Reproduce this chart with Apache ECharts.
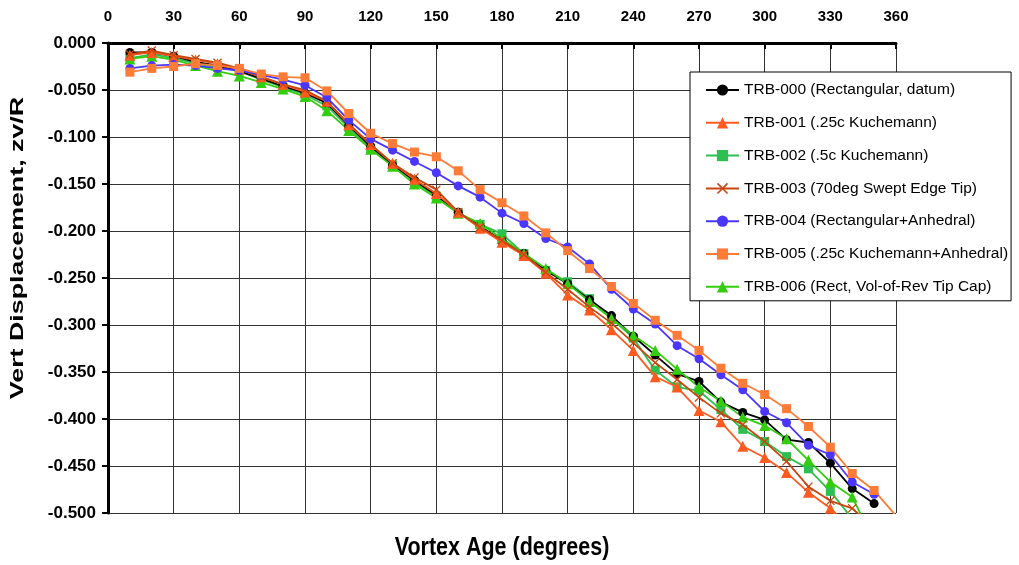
<!DOCTYPE html>
<html>
<head>
<meta charset="utf-8">
<script src="https://cdn.jsdelivr.net/npm/echarts@6/dist/echarts.min.js"></script>
<style>html,body{margin:0;padding:0;background:#fff}#c{width:1019px;height:565px}</style>
</head>
<body>
<div id="c"></div>
<script>
const ages = [10,20,30,40,50,60,70,80,90,100,110,120,130,140,150,160,170,180,190,200,210,220,230,240,250,260,270,280,290,300,310,320,330,340,350,360];
const xTicks = [0,30,60,90,120,150,180,210,240,270,300,330,360];

const trb000 = [-0.010,-0.010,-0.014,-0.020,-0.024,-0.030,-0.038,-0.046,-0.053,-0.064,-0.088,-0.110,-0.130,-0.146,-0.162,-0.180,-0.195,-0.210,-0.224,-0.242,-0.256,-0.273,-0.290,-0.312,-0.332,-0.352,-0.360,-0.382,-0.393,-0.401,-0.422,-0.425,-0.447,-0.474,-0.490];
const trb001 = [-0.013,-0.010,-0.014,-0.018,-0.022,-0.028,-0.036,-0.044,-0.052,-0.062,-0.087,-0.108,-0.128,-0.145,-0.160,-0.180,-0.197,-0.212,-0.226,-0.245,-0.268,-0.284,-0.305,-0.327,-0.355,-0.366,-0.391,-0.403,-0.429,-0.441,-0.457,-0.478,-0.495,-0.518];
const trb002 = [-0.016,-0.012,-0.016,-0.022,-0.026,-0.030,-0.039,-0.047,-0.055,-0.067,-0.090,-0.112,-0.130,-0.148,-0.163,-0.181,-0.193,-0.203,-0.224,-0.242,-0.254,-0.272,-0.293,-0.314,-0.348,-0.366,-0.370,-0.390,-0.411,-0.424,-0.440,-0.453,-0.477,-0.506];
const trb003 = [-0.012,-0.008,-0.013,-0.017,-0.021,-0.027,-0.036,-0.044,-0.050,-0.062,-0.086,-0.108,-0.128,-0.143,-0.156,-0.180,-0.196,-0.210,-0.225,-0.244,-0.262,-0.281,-0.298,-0.319,-0.340,-0.358,-0.377,-0.394,-0.406,-0.424,-0.445,-0.472,-0.487,-0.495,-0.516];
const trb004 = [-0.027,-0.024,-0.023,-0.024,-0.027,-0.029,-0.034,-0.039,-0.045,-0.058,-0.082,-0.102,-0.114,-0.126,-0.138,-0.152,-0.164,-0.181,-0.192,-0.208,-0.217,-0.235,-0.262,-0.283,-0.299,-0.322,-0.336,-0.353,-0.369,-0.392,-0.404,-0.428,-0.438,-0.467,-0.480];
const trb005 = [-0.031,-0.027,-0.025,-0.022,-0.024,-0.027,-0.033,-0.036,-0.037,-0.051,-0.075,-0.096,-0.107,-0.116,-0.121,-0.136,-0.156,-0.170,-0.184,-0.202,-0.221,-0.240,-0.259,-0.277,-0.295,-0.311,-0.327,-0.346,-0.362,-0.374,-0.389,-0.408,-0.430,-0.458,-0.476,-0.503];
const trb006 = [-0.017,-0.014,-0.018,-0.024,-0.030,-0.035,-0.042,-0.049,-0.057,-0.072,-0.093,-0.113,-0.131,-0.150,-0.165,-0.181,-0.192,-0.208,-0.224,-0.240,-0.256,-0.275,-0.293,-0.311,-0.327,-0.347,-0.366,-0.381,-0.398,-0.407,-0.421,-0.444,-0.467,-0.483,-0.530];

const names = [
  'TRB-000 (Rectangular, datum)',
  'TRB-001 (.25c Kuchemann)',
  'TRB-002 (.5c Kuchemann)',
  'TRB-003 (70deg Swept Edge Tip)',
  'TRB-004 (Rectangular+Anhedral)',
  'TRB-005 (.25c Kuchemann+Anhedral)',
  'TRB-006 (Rect, Vol-of-Rev Tip Cap)'
];
const values = [trb000, trb001, trb002, trb003, trb004, trb005, trb006];
const xSym = 'path://M0,1 L1,0 L5,4 L9,0 L10,1 L6,5 L10,9 L9,10 L5,6 L1,10 L0,9 L4,5 Z';
const styles = [
  {c:'#000000', s:'circle', z:8},
  {c:'#ff5a1f', s:'triangle', z:9},
  {c:'#2dbf4f', s:'rect', z:7},
  {c:'#c8460f', s:xSym, z:9},
  {c:'#4a36ff', s:'circle', z:9},
  {c:'#ff7b38', s:'rect', z:9},
  {c:'#33cc0f', s:'triangle', z:8}
];

const series = values.map((arr, i) => ({
  name: names[i],
  type: 'line',
  data: arr.map((v, k) => [ages[k], v]),
  symbol: styles[i].s,
  symbolSize: styles[i].s === 'triangle' ? 11 : 9,
  lineStyle: {color: styles[i].c, width: 1.8},
  itemStyle: {color: styles[i].c},
  clip: true,
  animation: false,
  z: styles[i].z
}));

const chart = echarts.init(document.getElementById('c'), null, {renderer: 'canvas'});
chart.setOption({
  backgroundColor: '#fff',
  animation: false,
  grid: {left: 108, top: 43, right: 123, bottom: 52},
  graphic: [
    {
      type: 'text', x: 18, y: 248, rotation: Math.PI / 2, scaleX: 1.41, scaleY: 1.0,
      style: {text: 'Vert Displacement, zv/R', fontFamily: 'Liberation Sans', fontWeight: 'bold',
        fontSize: 19, fill: '#000', align: 'center', verticalAlign: 'middle'}
    },
    {
      type: 'text', x: 502, y: 548, scaleX: 1.0, scaleY: 1.18,
      style: {text: 'Vortex Age (degrees)', fontFamily: 'Liberation Sans', fontWeight: 'bold',
        fontSize: 21.5, fill: '#000', align: 'center', verticalAlign: 'middle'}
    }
  ],
  xAxis: {
    type: 'value', position: 'top', min: 0, max: 360, interval: 30,
    axisLine: {show: true, onZero: false, lineStyle: {color: '#000', width: 3}},
    axisTick: {show: true, inside: true, length: 6, lineStyle: {color: '#000', width: 2}},
    axisLabel: {
      margin: 19, color: '#000', fontFamily: 'Liberation Sans', fontWeight: 'bold', fontSize: 15,
      formatter: v => xTicks.includes(v) ? String(v) : ''
    },
    splitLine: {show: true, lineStyle: {color: '#333', width: 1}}
  },
  yAxis: {
    type: 'value', min: -0.5, max: 0, interval: 0.05,
    axisLine: {show: true, onZero: false, lineStyle: {color: '#000', width: 3}},
    axisTick: {show: true, inside: false, length: 6, lineStyle: {color: '#000', width: 2}},
    axisLabel: {
      margin: 12, color: '#000', fontFamily: 'Liberation Sans', fontWeight: 'bold', fontSize: 17,
      formatter: v => v.toFixed(3)
    },
    splitLine: {show: true, lineStyle: {color: '#333', width: 1}}
  },
  legend: {
    orient: 'vertical', left: 690, top: 72,
    padding: [10, 3, 6, 15],
    itemWidth: 33, itemHeight: 14, itemGap: 16.8,
    backgroundColor: '#fff', borderColor: '#000', borderWidth: 1,
    textStyle: {fontFamily: 'Liberation Sans', fontSize: 15.5, color: '#000'},
    data: names
  },
  series: series
});
</script>
</body>
</html>
